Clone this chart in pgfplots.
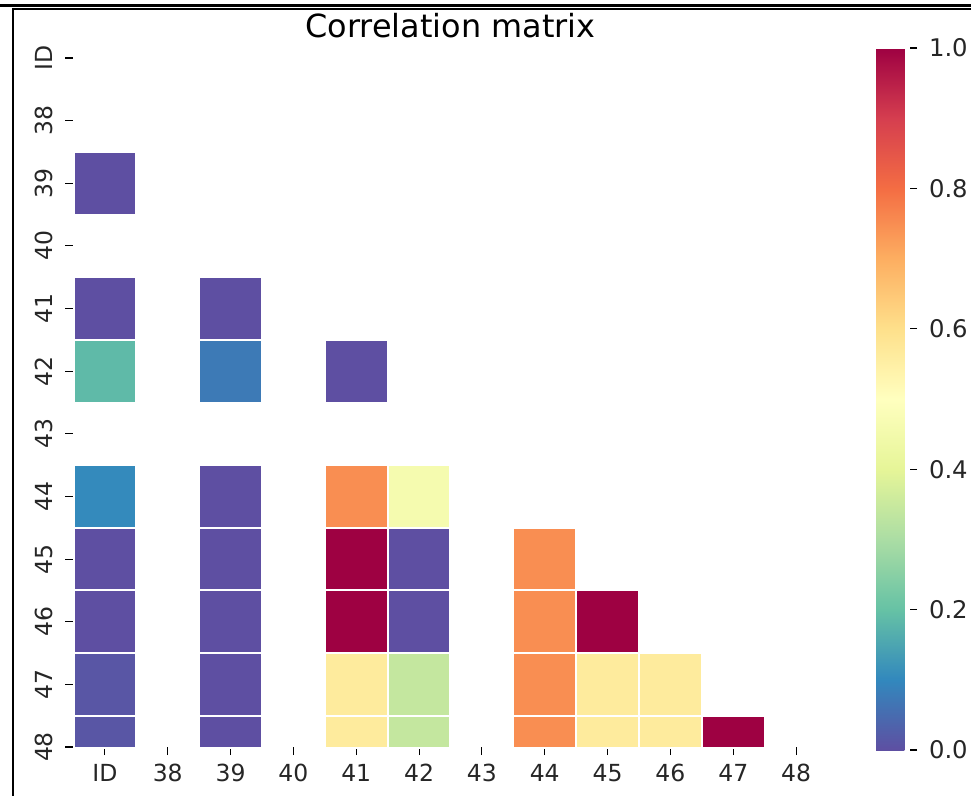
\documentclass[border=0pt]{standalone}
\usepackage{fontspec}
\setmainfont{DejaVu Sans}
\usepackage{pgfplots}
\pgfplotsset{compat=1.18}
\pgfplotsset{
  colormap={spectralr}{rgb255=(94,79,162) rgb255=(50,136,189) rgb255=(102,194,165) rgb255=(171,221,164) rgb255=(230,245,152) rgb255=(255,255,191) rgb255=(254,224,139) rgb255=(253,174,97) rgb255=(244,109,67) rgb255=(213,62,79) rgb255=(158,1,66)}
}
% half-height cell for the bottom row, which the axis cuts at its centre
\pgfdeclareplotmark{halfsq}{%
  \pgfpathrectangle{\pgfpoint{-\pgfplotmarksize}{-0.6bp}}{\pgfpoint{2\pgfplotmarksize}{\pgfplotmarksize+0.6bp}}%
  \pgfusepathqfillstroke}
\begin{document}
\begin{tikzpicture}
\path[use as bounding box] (0,0) rectangle (485.5bp,398bp);
\begin{axis}[
  at={(36.75bp,24.5bp)}, anchor=south west,
  scale only axis, width=377bp, height=344.5bp,
  /pgf/number format/assume math mode=true,
  colormap name=spectralr,
  point meta min=0, point meta max=1,
  xmin=-0.5, xmax=11.5, ymin=0, ymax=11,
  y dir=reverse,
  axis line style={draw=none},
  tick align=outside,
  major tick length=4bp,
  tick style={black, line width=0.55bp},
  xtick={0,1,...,11}, ytick={0,1,...,11},
  xticklabels={ID,38,39,40,41,42,43,44,45,46,47,48},
  yticklabels={ID,38,39,40,41,42,43,44,45,46,47,48},
  xtick pos=left, ytick pos=left,
  tick label style={font=\fontsize{11.8}{14}\selectfont, text=black!85},
  xticklabel style={yshift=-1bp},
  yticklabel style={xshift=-3bp, rotate=90, anchor=south},
  title={Correlation matrix},
  title style={font=\fontsize{16}{19}\selectfont, at={(0.5,1)}, anchor=base, yshift=4.5bp},
  clip=true,
  colorbar,
  colorbar style={
    scale only axis,
    at={(parent axis.north east)}, anchor=north west,
    xshift=15.75bp, yshift=5bp,
    width=17bp, height=351bp,
    axis line style={draw=none},
    tick align=outside,
    ytick pos=right, yticklabel pos=right,
    major tick length=3.5bp,
    tick style={black, line width=0.55bp},
    ytick={0,0.2,0.4,0.6,0.8,1},
    yticklabel={\pgfmathprintnumber[fixed,fixed zerofill,precision=1]{\tick}},
    yticklabel style={font=\fontsize{12.2}{14}\selectfont, text=black!85, xshift=2.5bp},
    /pgf/number format/assume math mode=true,
  },
]
\addplot[scatter, only marks, mark=square*, mark size=15.7bp,
  point meta=explicit,
  scatter/use mapped color={draw=white, fill=mapped color},
  mark options={line width=1bp}]
table[meta=v] {
x y v
0 2 0.0
0 4 0.0
2 4 0.0
0 5 0.186
2 5 0.075
4 5 0.0
0 7 0.103
2 7 0.0
4 7 0.75
5 7 0.46
0 8 0.0
2 8 0.0
4 8 1.0
5 8 0.0
7 8 0.75
0 9 0.0
2 9 0.0
4 9 1.0
5 9 0.0
7 9 0.75
8 9 1.0
0 10 0.012
2 10 0.0
4 10 0.565
5 10 0.342
7 10 0.75
8 10 0.565
9 10 0.565
};
\addplot[scatter, only marks, mark=halfsq, mark size=15.7bp,
  point meta=explicit,
  scatter/use mapped color={draw=white, fill=mapped color},
  mark options={line width=1bp}]
table[meta=v] {
x y v
0 11 0.012
2 11 0.0
4 11 0.565
5 11 0.342
7 11 0.75
8 11 0.565
9 11 0.565
10 11 1.0
};
\end{axis}
\draw[line width=1.25bp] (0,395.25bp) -- (485.5bp,395.25bp);
\draw[line width=1bp] (6bp,393.25bp) -- (485.5bp,393.25bp);
\draw[line width=1bp] (6.35bp,0) -- (6.35bp,393.75bp);
\end{tikzpicture}
\end{document}
